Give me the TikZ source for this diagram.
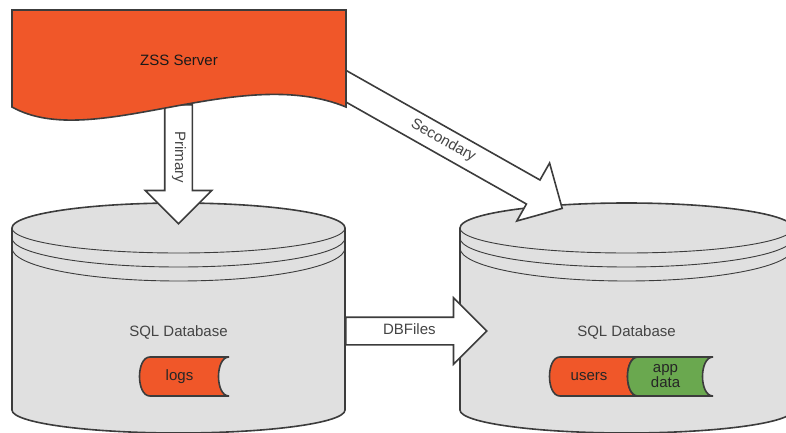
\documentclass[tikz,border=0pt]{standalone}
\usepackage{fontspec}
\setmainfont{Liberation Sans}
\usetikzlibrary{shapes.arrows,calc}

\definecolor{zssorange}{RGB}{240,87,41}
\definecolor{datagreen}{RGB}{106,168,79}
\definecolor{dbgray}{RGB}{224,224,224}
\definecolor{edgegray}{RGB}{60,60,60}
\definecolor{labelgray}{RGB}{68,68,68}

\pgfdeclarelayer{background}
\pgfdeclarelayer{arrows}
\pgfsetlayers{background,arrows,main}

% wide hollow arrow from one point to another, text along it
\newcommand{\fatarrow}[4]{%
  \path let \p1=($(#2)-(#1)$), \n1={atan2(\y1,\x1)}, \n2={veclen(\x1,\y1)} in
    node[bigarrow, rotate=\n1, minimum height=\n2, anchor=tail] (#4) at (#1) {#3};}

% stored data shape: left x, width, colour
\newcommand{\storedshape}[3]{%
  \filldraw[outline, fill=#3] (#1+10,357) -- (#1+#2+10,357)
    .. controls (#1+#2-4,357) and (#1+#2-4,396) .. (#1+#2+10,396)
    -- (#1+10,396) .. controls (#1-4,396) and (#1-4,357) .. cycle;}

\begin{document}
\begin{tikzpicture}[x=1pt,y=-1pt]
\tikzstyle{txt} = [font=\fontsize{15}{15}\selectfont, text=labelgray]
\tikzstyle{outline} = [draw=edgegray, line width=1.6pt]
\tikzstyle{bigarrow} = [single arrow, outline, fill=white, txt,
single arrow head extend=19.5pt, text height=11pt, text depth=4pt,
inner ysep=5.5pt, inner xsep=0pt]
\tikzstyle{stored} = [txt, text=black!85, align=center, inner sep=0pt]

\useasboundingbox (0,0) rectangle (786,433);

% server
\filldraw[outline, fill=zssorange] (12,10) -- (346,10) -- (346,107)
  .. controls (239,63) and (92,152) .. (12,107) -- cycle;
\node[txt, text=black!90] (server) at (179,60) {ZSS Server};
\coordinate (server-s) at (178.5,104);
\coordinate (server-e) at (335,80);

% databases
\foreach \x/\n in {178.5/1, 626.5/2} {
  \begin{pgfonlayer}{background}
  \filldraw[outline, fill=dbgray] (\x-166.5,228) -- (\x-166.5,410)
    arc[start angle=180, end angle=360, x radius=166.5pt, y radius=23pt]
    -- (\x+166.5,228)
    arc[start angle=0, end angle=180, x radius=166.5pt, y radius=25pt] -- cycle;
  \draw[edgegray, line width=0.9pt] (\x-166.5,228)
    arc[start angle=180, end angle=360, x radius=166.5pt, y radius=25pt];
  \foreach \i in {1,2}
    \draw[edgegray, line width=0.9pt] (\x-166.5,228+10*\i)
      arc[start angle=180, end angle=360, x radius=166.5pt, y radius={25pt+4pt*\i}];
  \end{pgfonlayer}
  \node[txt] (db\n) at (\x,332) {SQL Database};
  \coordinate (db\n-top) at (\x,203);
  \coordinate (db\n-w) at (\x-166.5,331);
  \coordinate (db\n-e) at (\x+166.5,331);
}

% tables
\begin{pgfonlayer}{background}
\storedshape{140}{79}{zssorange}
\storedshape{550}{78}{zssorange}
\storedshape{628}{75}{datagreen}
\end{pgfonlayer}
\node[stored] (logs) at (179.5,376.5) {logs};
\node[stored] (users) at (589,376.5) {users};
\node[stored] (appdata) at (665.5,376.5) {app\\data};

% connectors
\begin{pgfonlayer}{arrows}
\fatarrow{server-s}{[yshift=-20pt]db1-top}{Primary}{primary}
\fatarrow{server-e}{[shift={(-65,5)}]db2-top}{Secondary}{secondary}
\fatarrow{db1-e}{[xshift=26pt]db2-w}{DBFiles}{dbfiles}
\end{pgfonlayer}
\end{tikzpicture}
\end{document}
